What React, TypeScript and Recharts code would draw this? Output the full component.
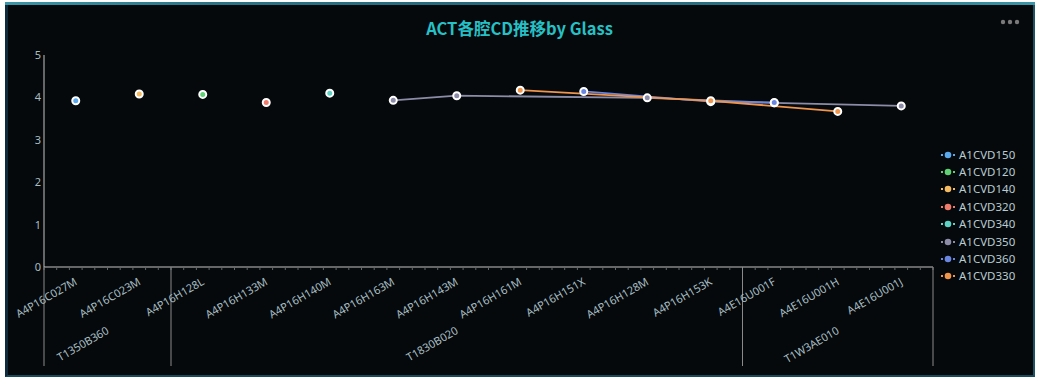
import React from 'react';
import { LineChart, Line, XAxis, YAxis, Legend } from 'recharts';

const categories = [
  'A4P16C027M', 'A4P16C023M', 'A4P16H128L', 'A4P16H133M', 'A4P16H140M',
  'A4P16H163M', 'A4P16H143M', 'A4P16H161M', 'A4P16H151X', 'A4P16H128M',
  'A4P16H153K', 'A4E16U001F', 'A4E16U001H', 'A4E16U001J',
];
const groupLabels = ['T1350B360', 'T1830B020', 'T1W3AE010'];
const groupSpans = [2, 9, 3];
const yTicks = [0, 1, 2, 3, 4, 5];

const seriesNames = ['A1CVD150', 'A1CVD120', 'A1CVD140', 'A1CVD320', 'A1CVD340', 'A1CVD350', 'A1CVD360', 'A1CVD330'];
const seriesColors = ['#5aa9ef', '#5fd174', '#f4bb62', '#ef7b6c', '#5fd2c6', '#8d8ca8', '#6b86e0', '#f0954c'];

const A1CVD150 = [3.92, null, null, null, null, null, null, null, null, null, null, null, null, null];
const A1CVD120 = [null, null, 4.07, null, null, null, null, null, null, null, null, null, null, null];
const A1CVD140 = [null, 4.08, null, null, null, null, null, null, null, null, null, null, null, null];
const A1CVD320 = [null, null, null, 3.88, null, null, null, null, null, null, null, null, null, null];
const A1CVD340 = [null, null, null, null, 4.1, null, null, null, null, null, null, null, null, null];
const A1CVD350 = [null, null, null, null, null, 3.93, 4.04, null, null, 3.99, null, 3.87, null, 3.8];
const A1CVD360 = [null, null, null, null, null, null, null, null, 4.14, null, 3.9, 3.88, null, null];
const A1CVD330 = [null, null, null, null, null, null, null, 4.17, null, null, 3.92, null, 3.67, null];

const seriesValues = [A1CVD150, A1CVD120, A1CVD140, A1CVD320, A1CVD340, A1CVD350, A1CVD360, A1CVD330];

const data = categories.map((cat, i) => {
  const row: Record<string, any> = { cat };
  seriesNames.forEach((name, s) => {
    row[name] = seriesValues[s][i];
  });
  return row;
});

const LABEL_COLOR = '#a8bec3';
const FONT = '"Noto Sans", "Noto Sans CJK SC", sans-serif';

function XTick(props: any) {
  const { x, y, payload, index } = props;
  const n = categories.length;
  const axisWidth = typeof props.width === 'number' && props.width > 0 ? props.width : 889;
  const bw = axisWidth / n;
  const left = x - bw / 2;
  const items: React.ReactNode[] = [];
  for (let k = 0; k < 5; k++) {
    const tx = left + (k * bw) / 5;
    items.push(<line key={'m' + k} x1={tx} x2={tx} y1={y} y2={y + 3} stroke="#666" strokeWidth={1} />);
  }
  if (index === n - 1) {
    items.push(<line key="mend" x1={left + bw} x2={left + bw} y1={y} y2={y + 3} stroke="#666" strokeWidth={1} />);
  }
  let start = 0;
  groupSpans.forEach((span, g) => {
    if (index === start) {
      items.push(<line key={'s' + g} x1={left} x2={left} y1={y} y2={y + 99} stroke="#8a8a8a" strokeWidth={1} />);
      const gx = left + (span * bw) / 2;
      const gy = y + 62;
      items.push(
        <text key={'g' + g} x={gx} y={gy} transform={`rotate(-30, ${gx}, ${gy})`} textAnchor="end"
          dominantBaseline="central" fill={LABEL_COLOR} fontSize={11} fontFamily={FONT}>
          {groupLabels[g]}
        </text>
      );
    }
    start += span;
  });
  if (index === n - 1) {
    items.push(<line key="send" x1={left + bw} x2={left + bw} y1={y} y2={y + 99} stroke="#8a8a8a" strokeWidth={1} />);
  }
  const ly = y + 13;
  items.push(
    <text key="lab" x={x} y={ly} transform={`rotate(-30, ${x}, ${ly})`} textAnchor="end"
      dominantBaseline="central" fill={LABEL_COLOR} fontSize={11} fontFamily={FONT}>
      {payload.value}
    </text>
  );
  return <g>{items}</g>;
}

function renderLegend() {
  return (
    <div style={{ display: 'flex', flexDirection: 'column' }}>
      {seriesNames.map((name, s) => (
        <div key={name} style={{ height: 17.4, display: 'flex', alignItems: 'center' }}>
          <svg width={16} height={10} style={{ marginRight: 3 }}>
            <line x1={1} x2={15} y1={5} y2={5} stroke={seriesColors[s]} strokeWidth={2} strokeDasharray="2 2" />
            <circle cx={8} cy={5} r={3.3} fill={seriesColors[s]} />
          </svg>
          <span style={{ color: '#b9ccd1', fontSize: 11.5, fontFamily: FONT, lineHeight: '14px' }}>{name}</span>
        </div>
      ))}
    </div>
  );
}

export default function App() {
  return (
    <div style={{ position: 'absolute', left: 0, top: 0, width: 1039, height: 379, background: '#ffffff' }}>
      <div style={{
        position: 'absolute', left: 5, top: 2, width: 1030, height: 375,
        background: '#05090c', boxSizing: 'border-box',
        borderLeft: '3px solid #0f2a3c', borderRight: '2px solid #1d5366', borderBottom: '2px solid #184a5c',
      }} />
      <div style={{
        position: 'absolute', left: 5, top: 2, width: 1030, height: 3,
        background: 'linear-gradient(90deg, #3a96a8 0%, #2b7486 20%, #25677a 50%, #2b7486 80%, #3a96a8 100%)',
      }} />
      <div style={{
        position: 'absolute', left: 0, top: 17, width: 1039, textAlign: 'center',
        color: '#26c1c6', fontSize: 16.5, fontWeight: 700, fontFamily: '"Noto Sans CJK SC", sans-serif', lineHeight: '22px',
      }}>
        ACT各腔CD推移by Glass
      </div>
      <svg style={{ position: 'absolute', left: 998, top: 17 }} width={24} height={10}>
        <circle cx={5} cy={5} r={2.2} fill="#7a7a7a" />
        <circle cx={12} cy={5} r={2.2} fill="#7a7a7a" />
        <circle cx={19} cy={5} r={2.2} fill="#7a7a7a" />
      </svg>
      <div style={{ position: 'absolute', left: 0, top: 0 }}>
        <LineChart width={1039} height={379} data={data} margin={{ top: 55, right: 106, bottom: 12, left: 14 }}>
          <XAxis dataKey="cat" type="category" scale="band" height={100} interval={0} tickSize={0} tickMargin={0}
            tickLine={false} axisLine={{ stroke: '#c4c4c4' }} tick={<XTick />} />
          <YAxis type="number" domain={[0, 5]} ticks={yTicks} width={30} tickSize={0} tickMargin={3}
            tickLine={false} axisLine={{ stroke: '#c4c4c4' }}
            tick={{ fill: LABEL_COLOR, fontSize: 11, fontFamily: FONT }} />
          <Legend layout="vertical" align="center" verticalAlign="middle" content={renderLegend}
            wrapperStyle={{ left: 940, top: 146, width: 95 }} />
          {seriesNames.map((name, s) => (
            <Line key={name} dataKey={name} name={name} type="linear" stroke={seriesColors[s]} strokeWidth={1.8}
              connectNulls isAnimationActive={false}
              dot={{ r: 3.5, fill: seriesColors[s], stroke: '#ffffff', strokeWidth: 2 }}
              activeDot={false} />
          ))}
        </LineChart>
      </div>
    </div>
  );
}
